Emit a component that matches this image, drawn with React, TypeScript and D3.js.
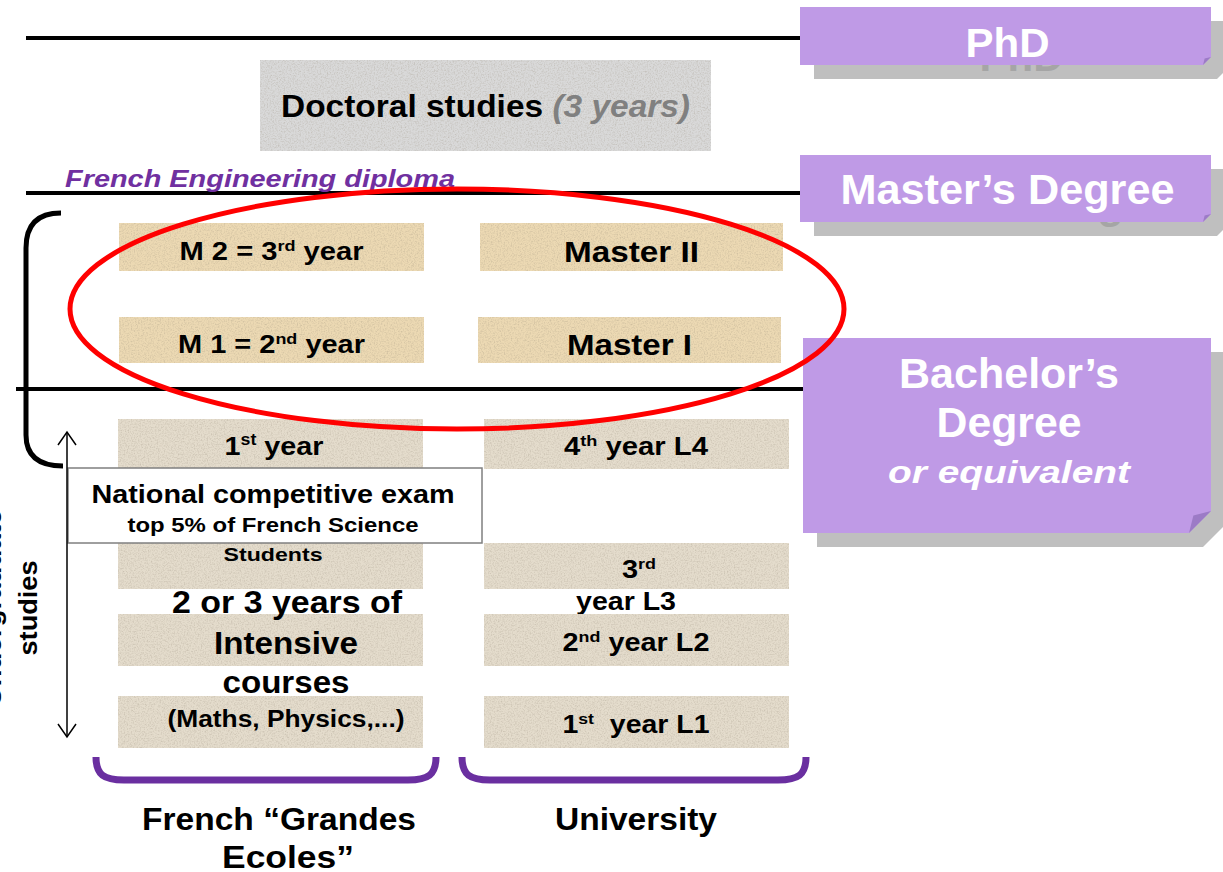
import * as d3 from "d3";

// labels; "^" wraps superscript parts, "|" splits lines
const degreeLabels = ["PhD", "Master’s Degree", "Bachelor’s|Degree|or equivalent"];
const engineeringLabel = "French Engineering diploma";
const doctoralLabel = ["Doctoral studies", " (3 years)"];
const masterEcole = ["M 2 = 3^rd^ year", "M 1 = 2^nd^ year"];
const masterUniv = ["Master II", "Master I"];
const ecoleYears = ["1^st^ year", "", "", ""];
const univYears = ["4^th^ year L4", "3^rd^|year L3", "2^nd^ year L2", "1^st^  year L1"];
const examLines = ["National competitive exam", "top 5% of French Science", "Students"];
const prepLines = ["2 or 3 years of", "Intensive", "courses", "(Maths, Physics,...)"];
const trackLabels = ["French “Grandes|Ecoles”", "University"];
const sideLabel = ["Undergraduate", "studies"];

const W = 1223;
const H = 872;
const FONT = "Liberation Sans, Arial, sans-serif";

// column positions: Grandes Ecoles / University
const colX = d3.scaleOrdinal<string, [number, number]>()
  .domain(["ecole", "univ"])
  .range([[119, 424], [480, 783]]);
const ugX = d3.scaleOrdinal<string, [number, number]>()
  .domain(["ecole", "univ"])
  .range([[118, 423], [484, 789]]);

// row tops for master years and undergraduate years
const masterY = d3.scaleOrdinal<number, [number, number]>().domain([0, 1]).range([[223, 271], [317, 363]]);
const ugY = d3.scaleOrdinal<number, [number, number]>()
  .domain([0, 1, 2, 3])
  .range([[419, 469], [543, 589], [614, 666], [696, 748]]);

type LabelProps = {
  text: string;
  x: number;
  y: number;
  size: number;
  width?: number;
  anchor?: "start" | "middle" | "end";
  italic?: boolean;
  fill?: string;
  transform?: string;
};

function Label({ text, x, y, size, width, anchor = "middle", italic, fill = "#000", transform }: LabelProps) {
  const parts = text.split("^");
  const shift = size * 0.38;
  return (
    <text
      x={x}
      y={y}
      fontSize={size}
      fontFamily={FONT}
      fontWeight="bold"
      fontStyle={italic ? "italic" : "normal"}
      textAnchor={anchor}
      fill={fill}
      textLength={width}
      lengthAdjust="spacingAndGlyphs"
      transform={transform}
      style={{ whiteSpace: "pre" }}
    >
      {parts.map((p, i) =>
        i % 2 === 1 ? (
          <tspan key={i} fontSize={size * 0.62} dy={-shift}>{p}</tspan>
        ) : (
          <tspan key={i} dy={i > 0 ? shift : 0}>{p}</tspan>
        )
      )}
    </text>
  );
}

type DegreeLine = { t: string; y: number; size: number; w: number; italic?: boolean };

function Degree({ x0, x1, y0, y1, fold, lines, ghost }: { x0: number; x1: number; y0: number; y1: number; fold: number; lines: DegreeLine[]; ghost?: boolean }) {
  const poly = (dx: number, dy: number) =>
    [
      [x0 + dx, y0 + dy],
      [x1 + dx, y0 + dy],
      [x1 + dx, y1 + dy - fold],
      [x1 + dx - fold, y1 + dy],
      [x0 + dx, y1 + dy],
    ].map((p) => p.join(",")).join(" ");
  const cx = (x0 + x1) / 2 + 2;
  return (
    <g>
      <polygon points={poly(14, 14)} fill="#bfbfbf" />
      {ghost &&
        lines.map((l, i) => (
          <Label key={"s" + i} text={l.t} x={cx + 14} y={l.y + 14} size={l.size} width={l.w} italic={l.italic} fill="#a5a5a5" />
        ))}
      <polygon points={poly(0, 0)} fill="#bf9ae6" />
      <polygon
        points={[[x1, y1 - fold], [x1 - fold, y1], [x1 - fold * 0.8, y1 - fold * 0.8]].map((p) => p.join(",")).join(" ")}
        fill="#9c7bc6"
      />
      {lines.map((l, i) => (
        <Label key={i} text={l.t} x={cx} y={l.y} size={l.size} width={l.w} italic={l.italic} fill="#fff" />
      ))}
    </g>
  );
}

export default function App() {
  const bracket = d3.path();
  bracket.moveTo(61, 213);
  bracket.quadraticCurveTo(26, 213, 26, 248);
  bracket.lineTo(26, 435);
  bracket.quadraticCurveTo(26, 466, 63, 466);

  const curly = ([a, b]: [number, number]) => {
    const p = d3.path();
    p.moveTo(a, 757);
    p.bezierCurveTo(a, 775, a + 8, 780, a + 28, 780);
    p.lineTo(b - 28, 780);
    p.bezierCurveTo(b - 8, 780, b, 775, b, 757);
    return p.toString();
  };

  const head = d3.line();

  const ugLeft = ugX("ecole");
  const ugRight = ugX("univ");

  return (
    <svg width={W} height={H} viewBox={`0 0 ${W} ${H}`} style={{ position: "absolute", left: 0, top: 0, background: "#fff" }}>
      <defs>
        <filter id="grain" x="0" y="0" width="100%" height="100%">
          <feTurbulence type="fractalNoise" baseFrequency="0.7" numOctaves="3" seed="4" result="n" />
          <feColorMatrix in="n" type="matrix" values="0 0 0 0 0.35  0 0 0 0 0.3  0 0 0 0 0.22  0.9 0 0 0 -0.38" result="a" />
          <feComposite in="a" in2="SourceGraphic" operator="in" result="c" />
          <feMerge>
            <feMergeNode in="SourceGraphic" />
            <feMergeNode in="c" />
          </feMerge>
        </filter>
      </defs>

      {/* level lines */}
      <line x1={26} x2={800} y1={38} y2={38} stroke="#000" strokeWidth={4} />
      <line x1={26} x2={800} y1={193} y2={193} stroke="#000" strokeWidth={4} />
      <line x1={16} x2={803} y1={389} y2={389} stroke="#000" strokeWidth={4} />

      {/* doctoral */}
      <rect x={260} y={60} width={451} height={91} fill="#d9d9d9" filter="url(#grain)" />
      <text x={281} y={117} fontSize={31} fontFamily={FONT} fontWeight="bold" textLength={409} lengthAdjust="spacingAndGlyphs" style={{ whiteSpace: "pre" }}>
        <tspan fill="#000">{doctoralLabel[0]}</tspan>
        <tspan fill="#808080" fontStyle="italic">{doctoralLabel[1]}</tspan>
      </text>

      <Label text={engineeringLabel} x={65} y={187} size={24} width={390} anchor="start" italic fill="#7030a0" />

      {/* degrees */}
      <Degree x0={800} x1={1211} y0={7} y1={65} fold={8} ghost lines={[{ t: degreeLabels[0], y: 57, size: 41, w: 84 }]} />
      <Degree x0={800} x1={1211} y0={155} y1={222} fold={8} ghost lines={[{ t: degreeLabels[1], y: 204, size: 42, w: 334 }]} />
      <Degree
        x0={803}
        x1={1211}
        y0={338}
        y1={533}
        fold={22}
        lines={degreeLabels[2].split("|").map((t, i) => ({
          t,
          y: [388, 437, 483][i],
          size: [42, 42, 32][i],
          w: [220, 145, 242][i],
          italic: i === 2,
        }))}
      />

      {/* master years */}
      {masterEcole.map((t, i) => {
        const [a, b] = colX("ecole");
        const [t0, t1] = masterY(i);
        return (
          <g key={"me" + i}>
            <rect x={a} y={t0} width={b - a} height={t1 - t0} fill="#ecd9b3" filter="url(#grain)" />
            <Label text={t} x={(a + b) / 2} y={t0 + 37 - i * 1} size={25} width={[184, 187][i]} />
          </g>
        );
      })}
      {masterUniv.map((t, i) => {
        const [a, b] = colX("univ");
        const [t0, t1] = masterY(i);
        const off = i === 1 ? -2 : 0;
        return (
          <g key={"mu" + i}>
            <rect x={a + off} y={t0} width={b - a} height={t1 - t0} fill="#ecd9b3" filter="url(#grain)" />
            <Label text={t} x={(a + b) / 2 + off} y={t0 + 39 - i} size={30} width={[135, 125][i]} />
          </g>
        );
      })}

      {/* undergraduate years */}
      {ecoleYears.map((t, i) => {
        const [t0, t1] = ugY(i);
        return (
          <g key={"ue" + i}>
            <rect x={ugLeft[0]} y={t0} width={ugLeft[1] - ugLeft[0]} height={t1 - t0} fill="#e4dccc" filter="url(#grain)" />
            {t && <Label text={t} x={274} y={455} size={26} width={99} />}
          </g>
        );
      })}
      {univYears.map((t, i) => {
        const [t0, t1] = ugY(i);
        const lines = t.split("|");
        const ys = lines.length > 1 ? [578, 610] : [[455, 0, 651, 733][i]];
        const ws = lines.length > 1 ? [34, 100] : [[144, 0, 147, 147][i]];
        const xs = lines.length > 1 ? [639, 626] : [636];
        return (
          <g key={"uu" + i}>
            <rect x={ugRight[0]} y={t0} width={ugRight[1] - ugRight[0]} height={t1 - t0} fill="#e4dccc" filter="url(#grain)" />
            {lines.map((l, j) => (
              <Label key={j} text={l} x={xs[j]} y={ys[j]} size={25} width={ws[j]} />
            ))}
          </g>
        );
      })}

      {/* prep courses */}
      {prepLines.map((t, i) => (
        <Label key={"p" + i} text={t} x={[287, 286, 286, 286][i]} y={[613, 654, 693, 727][i]} size={[31, 31, 31, 23][i]} width={[230, 144, 127, 237][i]} />
      ))}

      {/* exam box */}
      <Label text={examLines[2]} x={273} y={561} size={19} width={99} />
      <rect x={68} y={468} width={414} height={75} fill="#fff" stroke="#7f7f7f" strokeWidth={1.5} />
      <Label text={examLines[0]} x={273} y={503} size={25} width={363} />
      <Label text={examLines[1]} x={273} y={532} size={21} width={291} />

      {/* bracket & arrow */}
      <path d={bracket.toString()} fill="none" stroke="#000" strokeWidth={5} />
      <line x1={67} x2={67} y1={432} y2={737} stroke="#000" strokeWidth={1.5} />
      <path d={head([[58, 445], [67, 432], [76, 445]]) ?? ""} fill="none" stroke="#000" strokeWidth={1.5} />
      <path d={head([[58, 724], [67, 737], [76, 724]]) ?? ""} fill="none" stroke="#000" strokeWidth={1.5} />

      {sideLabel.map((t, i) => (
        <Label key={"sl" + i} text={t} x={0} y={0} size={25} width={[197, 95][i]} transform={`translate(${[1, 37][i]},608) rotate(-90)`} />
      ))}

      {/* track brackets */}
      <path d={curly([96, 436])} fill="none" stroke="#6a2fa0" strokeWidth={7} />
      <path d={curly([462, 806])} fill="none" stroke="#6a2fa0" strokeWidth={7} />
      {trackLabels.map((t, i) =>
        t.split("|").map((l, j) => (
          <Label key={`t${i}${j}`} text={l} x={[[279, 288], [636]][i][j]} y={[830, 868][j]} size={31} width={[[274, 132], [162]][i][j]} />
        ))
      )}

      {/* highlight */}
      <ellipse cx={457} cy={309} rx={387} ry={120} fill="none" stroke="#ff0000" strokeWidth={5} />
    </svg>
  );
}
